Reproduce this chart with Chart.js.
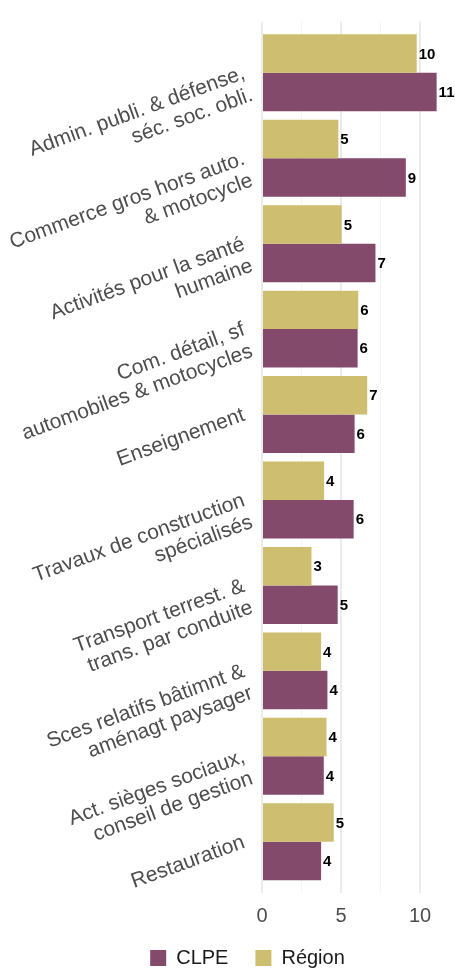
<!DOCTYPE html>
<html lang="fr">
<head>
<meta charset="utf-8">
<title>Secteurs d'emploi - CLPE / Région</title>
<script src="https://cdn.jsdelivr.net/npm/chart.js@4.4.1/dist/chart.umd.min.js"></script>
<style>
  html, body { margin: 0; padding: 0; background: #fff; }
  #wrap { width: 455px; height: 972px; position: relative; }
</style>
</head>
<body>
<div id="wrap"><canvas id="secteursChart"></canvas></div>
<script>
// secteurs : part des emplois (%) par secteur, CLPE vs Région
const secteurs = [
    ['Admin. publi. & défense,', 'séc. soc. obli.'],
    ['Commerce gros hors auto.', '& motocycle'],
    ['Activités pour la santé', 'humaine'],
    ['Com. détail, sf', 'automobiles & motocycles'],
    'Enseignement',
    ['Travaux de construction', 'spécialisés'],
    ['Transport terrest. &', 'trans. par conduite'],
    ['Sces relatifs bâtimnt &', 'aménagt paysager'],
    ['Act. sièges sociaux,', 'conseil de gestion'],
    'Restauration'
];

const valeursRegion = [9.79, 4.83, 5.04, 6.09, 6.66, 3.93, 3.13, 3.74, 4.08, 4.54];
const valeursClpe = [11.05, 9.10, 7.18, 6.05, 5.86, 5.80, 4.79, 4.14, 3.91, 3.74];

const ticksX = [0, 5, 10];

const COULEUR_REGION = '#CEBE6F';
const COULEUR_CLPE = '#844A6C';
const GRIS_TEXTE = '#4D4D4D';
const POLICE = '"Liberation Sans", Arial, sans-serif';

// étiquettes de valeur arrondies au bout des barres
const etiquettesValeurs = {
    id: 'etiquettesValeurs',
    afterDatasetsDraw(chart) {
        const ctx = chart.ctx;
        ctx.save();
        ctx.font = 'bold 15px ' + POLICE;
        ctx.fillStyle = '#000';
        ctx.textAlign = 'left';
        ctx.textBaseline = 'middle';
        chart.data.datasets.forEach((ds, i) => {
            chart.getDatasetMeta(i).data.forEach((bar, j) => {
                ctx.fillText(Math.round(ds.data[j]), bar.x + 2, bar.y + 1);
            });
        });
        ctx.restore();
    }
};

// décale la légende : un peu à droite, et remontée sous l'axe
const placeLegende = {
    id: 'placeLegende',
    afterLayout(chart) {
        const lg = chart.legend;
        lg.left += 25;
        lg.right += 25;
        lg.top -= 18;
    }
};

new Chart(document.getElementById('secteursChart'), {
    type: 'bar',
    data: {
        labels: secteurs,
        datasets: [
            { label: 'Région', data: valeursRegion, backgroundColor: COULEUR_REGION, borderWidth: 0 },
            { label: 'CLPE', data: valeursClpe, backgroundColor: COULEUR_CLPE, borderWidth: 0 }
        ]
    },
    options: {
        indexAxis: 'y',
        responsive: true,
        maintainAspectRatio: false,
        animation: false,
        datasets: { bar: { categoryPercentage: 0.9, barPercentage: 1.0 } },
        layout: { padding: { top: 13, right: 10, bottom: 0, left: 0 } },
        scales: {
            x: {
                min: 0,
                max: 11.58,
                border: { display: false },
                grid: {
                    drawTicks: false,
                    color: (c) => (c.tick && c.tick.value % 5 === 0) ? '#EBEBEB' : '#F4F4F4',
                    lineWidth: (c) => (c.tick && c.tick.value % 5 === 0) ? 2 : 1
                },
                ticks: {
                    stepSize: 2.5,
                    includeBounds: false,
                    autoSkip: false,
                    padding: 2,
                    color: GRIS_TEXTE,
                    font: { family: POLICE, size: 20, lineHeight: '42px' },
                    callback: (v) => ticksX.includes(v) ? v : ''
                }
            },
            y: {
                offset: true,
                border: { display: false },
                grid: { display: false },
                // marge de 0,6 catégorie en haut et en bas
                afterBuildTicks: (scale) => {
                    scale._startValue = -0.6;
                    scale._valueRange = secteurs.length + 0.2;
                },
                afterFit: (scale) => { scale.width = 262; },
                ticks: {
                    autoSkip: false,
                    minRotation: 20,
                    maxRotation: 20,
                    padding: 10,
                    color: GRIS_TEXTE,
                    font: { family: POLICE, size: 21, lineHeight: 1.1 },
                    // libellés sur deux lignes : première ligne calée sur la catégorie
                    callback: (v, i) => {
                        const l = secteurs[i];
                        return Array.isArray(l) ? ['', ...l] : l;
                    }
                }
            }
        },
        plugins: {
            legend: {
                position: 'bottom',
                reverse: true,
                maxHeight: 33,
                labels: {
                    boxWidth: 16,
                    boxHeight: 16,
                    padding: 27,
                    color: '#1A1A1A',
                    font: { family: POLICE, size: 20 }
                }
            },
            tooltip: { enabled: false }
        }
    },
    plugins: [etiquettesValeurs, placeLegende]
});
</script>
</body>
</html>
